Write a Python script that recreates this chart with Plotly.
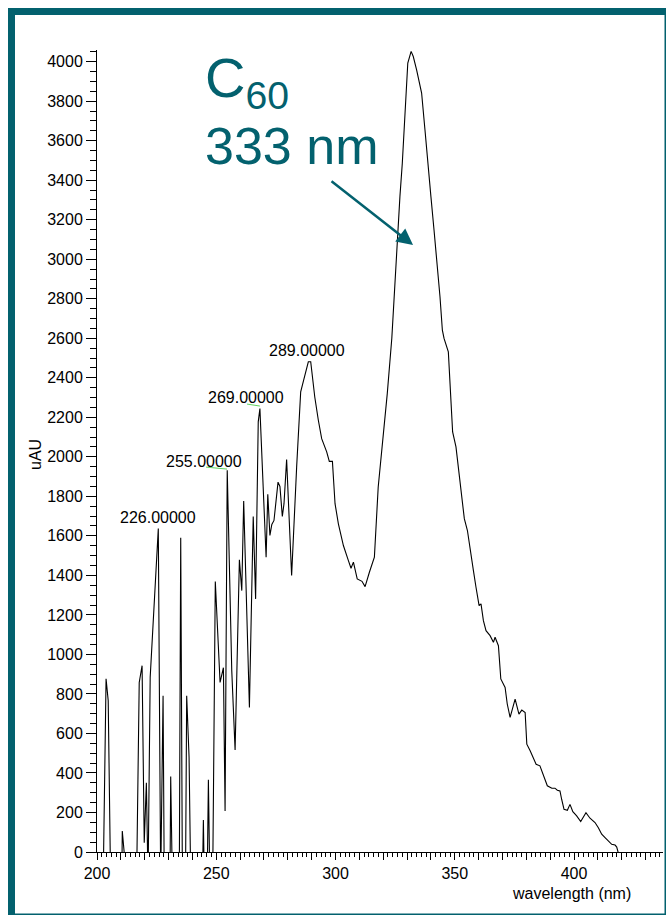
import plotly.graph_objects as go

# ---- data ----
wavelength_nm = [
    200.0, 202.6, 203.8, 204.7, 205.7, 210.4, 210.6, 212.5, 216.6, 217.7,
    218.9, 219.8, 220.7, 221.4, 222.3, 225.7, 226.7, 227.7, 228.2, 230.6,
    230.9, 231.6, 234.5, 235.1, 235.8, 237.1, 237.6, 238.6, 239.3, 244.2,
    244.6, 245.0, 246.2, 246.7, 247.3, 248.5, 249.6, 251.6, 253.0, 253.7,
    254.6, 256.5, 257.9, 259.7, 260.7, 261.5, 263.9, 265.5, 266.5, 267.6,
    268.3, 270.9, 271.6, 272.5, 273.3, 274.2, 275.9, 276.7, 277.7, 278.4,
    279.5, 281.6, 283.7, 285.4, 286.8, 287.6, 288.6, 289.6, 291.3, 292.8,
    294.2, 296.3, 297.4, 298.7, 299.8, 301.2, 303.3, 305.4, 306.5, 307.5,
    309.1, 311.1, 312.4, 314.2, 316.3, 317.9, 320.0, 321.7, 323.6, 324.2,
    325.0, 325.9, 327.0, 328.0, 328.8, 329.6, 330.3, 331.7, 332.6, 334.0,
    336.1, 337.5, 338.9, 340.0, 341.3, 342.7, 343.8, 344.8, 345.5, 347.3,
    349.1, 350.5, 351.9, 352.9, 354.0, 355.3, 356.4, 357.8, 358.9, 360.2,
    361.0, 362.0, 363.1, 364.8, 366.2, 366.9, 368.3, 369.3, 371.1, 372.0,
    373.2, 375.3, 376.9, 378.1, 379.5, 380.2, 381.6, 382.7, 384.1, 385.7,
    387.1, 388.8, 390.7, 392.0, 393.0, 394.1, 394.8, 395.8, 397.2, 398.3,
    399.5, 401.1, 402.8, 405.0, 406.7, 408.8, 410.2, 411.6, 413.0, 414.4,
    415.8, 417.2, 417.9, 418.9, 440.0,
]
absorbance_uau = [
    -150, -150, 877, 766, -150, -150, 106, -150, -150, 858,
    943, 47, 351, -150, 884, 1637, -150, 791, -150, -150,
    382, -150, -150, 1590, -150, -150, 791, 478, -150, -150,
    162, -150, -150, 365, -150, -150, 1369, 858, 933, 208,
    1932, 918, 516, 1479, 1323, 1776, 732, 1698, 1281, 2177,
    2244, 1492, 1810, 1602, 1658, 1678, 1872, 1850, 1698, 1763,
    1986, 1399, 1948, 2329, 2396, 2430, 2481, 2481, 2303, 2185,
    2092, 2025, 1977, 1977, 1763, 1661, 1551, 1475, 1436, 1467,
    1382, 1370, 1343, 1416, 1492, 1847, 2100, 2320, 2600, 2726,
    2895, 3114, 3317, 3486, 3655, 3824, 3993, 4052, 4026, 3959,
    3841, 3655, 3486, 3317, 3148, 2979, 2810, 2641, 2599, 2531,
    2126, 2050, 1915, 1796, 1687, 1627, 1526, 1425, 1340, 1247,
    1256, 1171, 1120, 1095, 1061, 1087, 1044, 876, 833, 749,
    681, 774, 698, 718, 706, 546, 512, 478, 444, 436,
    394, 335, 323, 323, 313, 309, 267, 216, 211, 241,
    204, 183, 154, 199, 171, 149, 123, 90, 73, 56,
    39, 35, 25, -20, -50,
]

peak_labels = ["226.00000", "255.00000", "269.00000", "289.00000", "333.00000"]
peak_label_x = [225.6, 244.9, 262.5, 288.1, 331.7]
peak_label_y = [1695, 1978, 2302, 2540, 4110]

x_major_ticks = list(range(200, 440, 10))
x_tick_text = [str(v) if v % 50 == 0 else "" for v in x_major_ticks]
y_major_ticks = list(range(0, 4001, 200))

TEAL = "#03616e"
FONT = "Liberation Sans, Arial, sans-serif"

fig = go.Figure()
fig.add_trace(go.Scatter(
    x=wavelength_nm, y=absorbance_uau, mode="lines",
    line=dict(color="black", width=1.1), showlegend=False, hoverinfo="skip",
))

W, H = 666, 915
L, R, T, B = 97, 3, 50, 63
pw, ph = W - L - R, H - T - B


def px2paper_x(p):
    return (p - L) / pw


def px2paper_y(p):
    return (H - B - p) / ph


fig.update_layout(
    width=W, height=H,
    margin=dict(l=L, r=R, t=T, b=B, pad=0),
    paper_bgcolor="white", plot_bgcolor="white",
    font=dict(family=FONT, size=16, color="black"),
    xaxis=dict(
        range=[200, 437.3], tickmode="array", tickvals=x_major_ticks,
        ticktext=x_tick_text, ticks="outside", ticklen=7, tickwidth=1,
        tickcolor="black", showline=True, linecolor="black", linewidth=1,
        showgrid=False, zeroline=False,
        minor=dict(dtick=2, tick0=200, ticks="outside", ticklen=4,
                   tickcolor="black", tickwidth=1, showgrid=False),
        tickfont=dict(size=16),
    ),
    yaxis=dict(
        range=[0, 4059], tickmode="array", tickvals=y_major_ticks,
        ticks="outside", ticklen=10, tickwidth=1, tickcolor="black",
        showline=True, linecolor="black", linewidth=1,
        showgrid=False, zeroline=False,
        minor=dict(dtick=50, tick0=0, ticks="outside", ticklen=6,
                   tickcolor="black", tickwidth=1, showgrid=False),
        tickfont=dict(size=16),
    ),
    shapes=[
        dict(type="rect", xref="paper", yref="paper",
             x0=px2paper_x(11.5), x1=px2paper_x(668),
             y0=px2paper_y(917), y1=px2paper_y(11.5),
             line=dict(color=TEAL, width=7), fillcolor="rgba(0,0,0,0)",
             layer="above"),
        dict(type="line", xref="x", yref="y", x0=245.7, x1=254.5,
             y0=1948, y1=1938, line=dict(color="#5fd35f", width=1)),
        dict(type="line", xref="x", yref="y", x0=262.9, x1=268.3,
             y0=2267, y1=2257, line=dict(color="#5fd35f", width=1)),
    ],
)

annotations = []
for txt, lx, ly in zip(peak_labels, peak_label_x, peak_label_y):
    annotations.append(dict(x=lx, y=ly, xref="x", yref="y", text=txt,
                            showarrow=False, xanchor="center", yanchor="middle",
                            font=dict(size=16, color="black", family=FONT)))

annotations += [
    dict(x=px2paper_x(35), y=px2paper_y(455), xref="paper", yref="paper",
         text="uAU", textangle=-90, showarrow=False, xanchor="center",
         yanchor="middle", font=dict(size=16, color="black", family=FONT)),
    dict(x=px2paper_x(633), y=px2paper_y(893), xref="paper", yref="paper",
         text="wavelength (nm)", showarrow=False, xanchor="right",
         yanchor="middle", font=dict(size=16, color="black", family=FONT)),
    dict(x=px2paper_x(203), y=px2paper_y(82), xref="paper", yref="paper",
         text="C<sub>60</sub>", showarrow=False, xanchor="left",
         yanchor="middle", font=dict(size=56, color=TEAL, family=FONT)),
    dict(x=px2paper_x(203), y=px2paper_y(146), xref="paper", yref="paper",
         text="333 nm", showarrow=False, xanchor="left",
         yanchor="middle", font=dict(size=52, color=TEAL, family=FONT)),
    dict(x=332.5, y=3072, xref="x", yref="y", ax=-83, ay=-65, text="",
         showarrow=True, arrowhead=2, arrowsize=1.3, arrowwidth=2.5,
         arrowcolor=TEAL),
]
fig.update_layout(annotations=annotations)

fig.write_html("out.html")
